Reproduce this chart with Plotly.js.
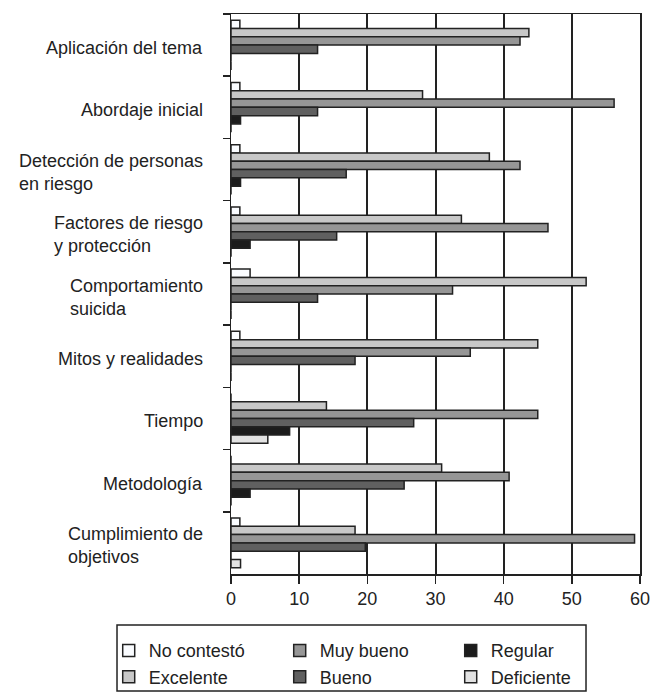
<!DOCTYPE html>
<html>
<head>
<meta charset="utf-8">
<script src="https://cdn.plot.ly/plotly-3.0.1.min.js"></script>
<style>html,body{margin:0;padding:0;background:#fff;}#chart{width:653px;height:694px;}</style>
</head>
<body>
<div id="chart"></div>
<script>
var categories = [
  "Aplicación del tema",
  "Abordaje inicial",
  "Detección de personas<br>en riesgo",
  "Factores de riesgo<br>y protección",
  "Comportamiento<br>suicida",
  "Mitos y realidades",
  "Tiempo",
  "Metodología",
  "Cumplimiento de<br>objetivos"
];
var seriesNames = ["No contestó", "Excelente", "Muy bueno", "Bueno", "Regular", "Deficiente"];
var noContesto = [1.3, 1.3, 1.3, 1.3, 2.8, 1.3, 0, 0, 1.3];
var excelente  = [43.7, 28.1, 37.9, 33.8, 52.1, 45.0, 14.0, 30.9, 18.2];
var muyBueno   = [42.4, 56.2, 42.4, 46.5, 32.5, 35.1, 45.0, 40.8, 59.2];
var bueno      = [12.7, 12.7, 16.9, 15.5, 12.7, 18.2, 26.8, 25.4, 19.7];
var regular    = [0, 1.4, 1.4, 2.8, 0, 0, 8.6, 2.8, 0];
var deficiente = [0, 0, 0, 0, 0, 0, 5.4, 0, 1.4];
var xTicks = [0, 10, 20, 30, 40, 50, 60];

var values = [noContesto, excelente, muyBueno, bueno, regular, deficiente];
var colors = ["#fafcff", "#c8c8c8", "#969696", "#606060", "#1c1c1c", "#e2e2e2"];
var ranks = [1, 4, 2, 5, 3, 6];
var FONT = "'Liberation Sans', Arial, sans-serif";
var keys = categories.map(function(c, i){ return "c" + i; });

var traces = seriesNames.map(function(name, k){
  return {
    type: "bar",
    orientation: "h",
    name: name,
    y: keys,
    x: values[k],
    legendrank: ranks[k],
    marker: {color: colors[k], line: {color: "#222", width: 1.5}},
    hoverinfo: "x+name"
  };
});

var annotations = categories.map(function(c, i){
  return {
    xref: "paper", yref: "y", x: 0, y: keys[i],
    xanchor: "right", yanchor: "middle", align: "left",
    xshift: -26, yshift: -3,
    text: c, showarrow: false,
    font: {family: FONT, size: 18, color: "#222"}
  };
});

var layout = {
  width: 653, height: 694,
  margin: {l: 231, r: 13, t: 14, b: 120, autoexpand: false},
  paper_bgcolor: "#fff", plot_bgcolor: "#fff",
  barmode: "group", bargap: 0.2, bargroupgap: 0,
  font: {family: FONT, size: 18, color: "#222"},
  showlegend: true,
  legend: {
    orientation: "h", x: -0.299, xanchor: "left", y: -0.104, yanchor: "top",
    borderwidth: 0, bgcolor: "rgba(0,0,0,0)",
    font: {family: FONT, size: 18, color: "#222"},
    entrywidth: 126, entrywidthmode: "pixels",
    traceorder: "normal", tracegroupgap: 0
  },
  shapes: [{
    type: "rect", xref: "paper", yref: "paper", layer: "above",
    x0: -0.2787, x1: 0.868, y0: -0.0911, y1: -0.2089,
    line: {color: "#222", width: 1.5}, fillcolor: "rgba(0,0,0,0)"
  }],
  xaxis: {
    range: [0, 60], tickvals: xTicks, ticktext: xTicks.map(String),
    showgrid: true, gridcolor: "#222", gridwidth: 2,
    showline: true, linecolor: "#222", linewidth: 1.5, mirror: true,
    ticks: "outside", ticklen: 8, tickwidth: 1.5, tickcolor: "#222",
    zeroline: false, fixedrange: true,
    tickfont: {family: FONT, size: 18, color: "#222"}
  },
  yaxis: {
    type: "category", autorange: "reversed",
    showticklabels: false, tickson: "boundaries",
    ticks: "outside", ticklen: 7, tickwidth: 1.5, tickcolor: "#222",
    showline: true, linecolor: "#222", linewidth: 1.5, mirror: true,
    showgrid: false, zeroline: false, fixedrange: true
  },
  annotations: annotations
};

Plotly.newPlot("chart", traces, layout, {displayModeBar: false, staticPlot: true});
</script>
</body>
</html>
